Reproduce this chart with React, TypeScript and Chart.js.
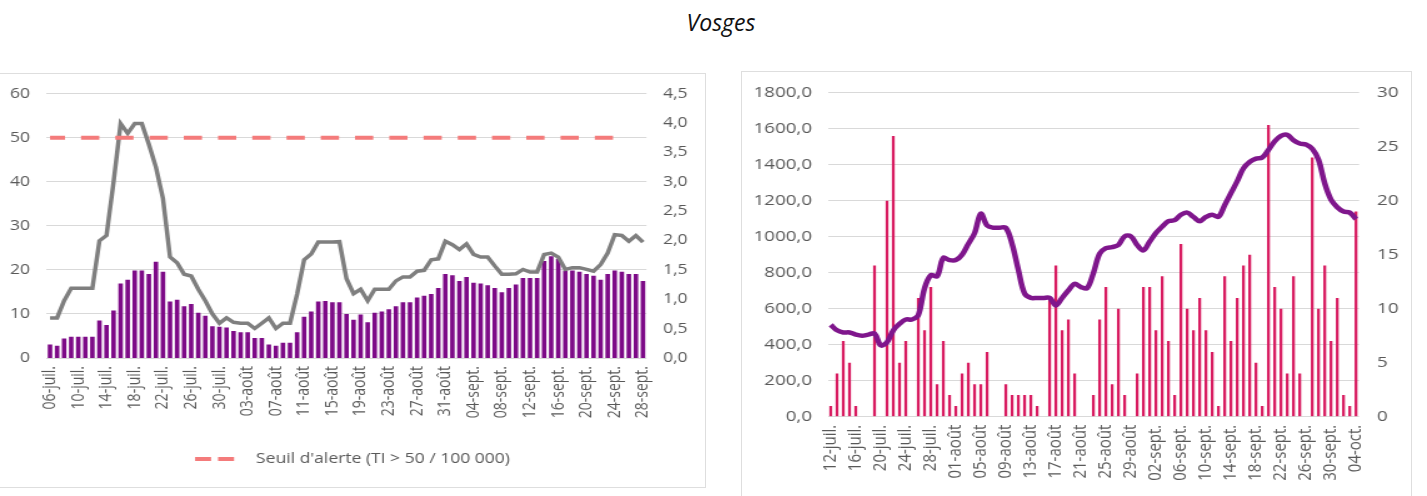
import React, { useEffect, useRef } from 'react';
import { Chart, registerables } from 'chart.js';

Chart.register(...registerables);

// ---------- categories ----------
const MONTHS = ['janv.', 'févr.', 'mars', 'avr.', 'mai', 'juin', 'juil.', 'août', 'sept.', 'oct.', 'nov.', 'déc.'];
function dayLabels(year: number, month: number, day: number, count: number): string[] {
  const out: string[] = [];
  for (let i = 0; i < count; i++) {
    const d = new Date(Date.UTC(year, month, day + i));
    out.push(String(d.getUTCDate()).padStart(2, '0') + '-' + MONTHS[d.getUTCMonth()]);
  }
  return out;
}
const leftDays = dayLabels(2020, 6, 6, 85); // 06-juil. -> 28-sept.
const rightDays = dayLabels(2020, 6, 12, 85); // 12-juil. -> 04-oct.
const LABEL_STEP = 4;

// ---------- left chart series ----------
const THRESHOLD = 50;
const THRESHOLD_LAST_INDEX = 80;
const THRESHOLD_LABEL = "Seuil d'alerte (TI > 50 / 100 000)";

// incidence (left axis)
const leftIncidence = [
  9.1, 9.1, 13.0, 15.8, 15.8, 15.8, 15.8, 26.6, 27.8, 39.9,
  53.2, 51.0, 53.2, 53.2, 48.5, 43.3, 36.2, 22.9, 21.6, 19.0,
  18.6, 15.6, 13.0, 10.0, 7.9, 9.1, 8.1, 7.9, 7.9, 6.7,
  7.9, 9.1, 6.7, 7.9, 7.9, 14.5, 22.3, 23.6, 26.3, 26.3,
  26.3, 26.4, 18.0, 14.6, 15.6, 13.0, 15.6, 15.6, 15.6, 17.5,
  18.4, 18.4, 19.7, 19.9, 22.3, 22.5, 26.5, 25.7, 24.6, 25.9,
  23.5, 22.9, 22.9, 20.9, 19.0, 19.0, 19.1, 20.1, 19.5, 19.5,
  23.5, 23.8, 22.9, 20.1, 20.5, 20.5, 20.1, 19.7, 21.2, 23.8,
  28.0, 27.8, 26.5, 27.8, 26.3,
];

// positivity (right axis)
const leftPositivity = [
  0.23, 0.21, 0.33, 0.36, 0.36, 0.36, 0.36, 0.64, 0.56, 0.81,
  1.27, 1.33, 1.49, 1.49, 1.43, 1.64, 1.47, 0.96, 0.99, 0.88,
  0.92, 0.77, 0.72, 0.54, 0.53, 0.52, 0.46, 0.44, 0.44, 0.34,
  0.34, 0.23, 0.21, 0.26, 0.26, 0.44, 0.70, 0.79, 0.96, 0.97,
  0.95, 0.95, 0.75, 0.65, 0.74, 0.61, 0.77, 0.79, 0.83, 0.88,
  0.95, 0.95, 1.03, 1.06, 1.09, 1.19, 1.43, 1.41, 1.31, 1.38,
  1.28, 1.27, 1.24, 1.19, 1.12, 1.19, 1.25, 1.36, 1.36, 1.36,
  1.65, 1.73, 1.69, 1.49, 1.49, 1.47, 1.43, 1.40, 1.33, 1.43,
  1.49, 1.47, 1.43, 1.43, 1.31,
];

const leftThreshold = leftDays.map((_, i) => (i <= THRESHOLD_LAST_INDEX ? THRESHOLD : null));

// ---------- right chart series ----------
// bars (left axis)
const rightBars = [
  60, 240, 420, 300, 60, 0, 0, 840, 0, 1200,
  1560, 300, 420, 0, 660, 480, 720, 180, 420, 120,
  60, 240, 300, 180, 180, 360, 0, 0, 180, 120,
  120, 120, 120, 60, 0, 660, 840, 480, 540, 240,
  0, 0, 120, 540, 720, 180, 600, 120, 0, 240,
  720, 720, 480, 780, 420, 120, 960, 600, 480, 660,
  480, 360, 60, 780, 420, 660, 840, 900, 300, 60,
  1620, 720, 600, 240, 780, 240, 0, 1440, 600, 840,
  420, 660, 120, 60, 1140,
];

// line (right axis)
const rightLine = [
  8.5, 8.0, 7.8, 7.8, 7.6, 7.5, 7.6, 7.7, 6.6, 6.9,
  8.0, 8.6, 9.0, 9.0, 9.4, 11.9, 13.1, 13.0, 14.7, 14.5,
  14.5, 15.0, 16.0, 17.0, 18.8, 17.7, 17.5, 17.5, 17.5, 16.0,
  13.6, 11.4, 11.0, 11.0, 11.0, 11.0, 10.3, 11.0, 11.7, 12.3,
  12.0, 11.9, 13.3, 15.1, 15.6, 15.7, 15.9, 16.7, 16.7, 15.9,
  15.4, 16.2, 17.0, 17.6, 18.1, 18.2, 18.7, 18.9, 18.5, 18.1,
  18.5, 18.7, 18.5, 19.6, 20.7, 21.8, 23.0, 23.6, 23.9, 24.0,
  24.7, 25.5, 26.0, 26.1, 25.6, 25.3, 25.2, 24.8, 23.8, 21.6,
  20.1, 19.4, 19.0, 18.9, 18.3,
];

// ---------- styling ----------
const SX = 1.25; // horizontal stretch of the pasted charts
const TEXT = '#595959';
const GRID = '#d9d9d9';
const FONT = "'Open Sans', sans-serif";

const comma1 = (v: number) => Number(v).toFixed(1).replace('.', ',');

function everyNth(this: any, val: any, idx: number) {
  return idx % LABEL_STEP === 0 ? this.getLabelForValue(val) : '';
}

export default function App() {
  const leftRef = useRef<HTMLCanvasElement>(null);
  const rightRef = useRef<HTMLCanvasElement>(null);

  useEffect(() => {
    Chart.defaults.font.family = FONT;
    Chart.defaults.color = TEXT;

    const left = new Chart(leftRef.current as HTMLCanvasElement, {
      type: 'bar',
      data: {
        labels: leftDays,
        datasets: [
          {
            type: 'line',
            label: THRESHOLD_LABEL,
            data: leftThreshold,
            yAxisID: 'y',
            borderColor: '#f47b7b',
            backgroundColor: '#f47b7b',
            borderWidth: 4,
            borderDash: [14.6, 12.8],
            borderDashOffset: 2.6,
            borderCapStyle: 'butt',
            pointRadius: 0,
            pointStyle: 'line',
            tension: 0,
            order: 1,
          } as any,
          {
            type: 'line',
            label: "Taux d'incidence",
            data: leftIncidence,
            yAxisID: 'y',
            borderColor: '#7f7f7f',
            backgroundColor: '#7f7f7f',
            borderWidth: 3.5,
            pointRadius: 0,
            tension: 0,
            order: 2,
          } as any,
          {
            type: 'bar',
            label: 'Taux de positivité',
            data: leftPositivity,
            yAxisID: 'y1',
            backgroundColor: '#7d0a87',
            barPercentage: 0.64,
            categoryPercentage: 1,
            order: 3,
          } as any,
        ],
      },
      options: {
        responsive: false,
        animation: false,
        devicePixelRatio: 1,
        layout: { autoPadding: false, padding: { top: 18.7, bottom: 11, left: 0, right: 0 } },
        plugins: {
          tooltip: { enabled: false },
          legend: {
            position: 'bottom',
            labels: {
              usePointStyle: true,
              pointStyleWidth: 41.8,
              color: TEXT,
              font: { size: 14, family: FONT },
              filter: (item: any) => item.datasetIndex === 0,
              generateLabels: (chart: any) =>
                (Chart.defaults.plugins.legend.labels as any)
                  .generateLabels(chart)
                  .map((l: any) => ({ ...l, lineDash: [12.8, 5.6, 12.8, 20], lineWidth: 4 })),
            },
          },
        },
        scales: {
          x: {
            offset: true,
            grid: { display: false, drawTicks: false },
            border: { display: false },
            ticks: {
              autoSkip: false,
              minRotation: 90,
              maxRotation: 90,
              padding: 8,
              color: TEXT,
              font: { size: 14 },
              callback: everyNth,
            },
            afterFit: (s: any) => { s.height = 84; },
          },
          y: {
            position: 'left',
            min: 0,
            max: 60,
            ticks: { stepSize: 10, padding: 13.2, color: TEXT, font: { size: 14 } },
            grid: { color: GRID, drawTicks: false, lineWidth: 1 },
            border: { display: false },
            afterFit: (s: any) => { s.width = 37.2; },
          },
          y1: {
            position: 'right',
            min: 0,
            max: 4.5,
            ticks: { stepSize: 0.5, padding: 13.2, color: TEXT, font: { size: 14 }, callback: (v: any) => comma1(v) },
            grid: { display: false, drawTicks: false },
            border: { display: false },
            afterFit: (s: any) => { s.width = 46.8; },
          },
        },
      } as any,
    });

    const right = new Chart(rightRef.current as HTMLCanvasElement, {
      type: 'bar',
      data: {
        labels: rightDays,
        datasets: [
          {
            type: 'line',
            label: 'Moyenne',
            data: rightLine,
            yAxisID: 'y1',
            borderColor: '#7f168c',
            backgroundColor: '#7f168c',
            borderWidth: 4.5,
            pointRadius: 0,
            tension: 0.35,
            order: 1,
          } as any,
          {
            type: 'bar',
            label: 'Quotidien',
            data: rightBars,
            yAxisID: 'y',
            backgroundColor: '#d81b60',
            barPercentage: 0.45,
            categoryPercentage: 1,
            order: 2,
          } as any,
        ],
      },
      options: {
        responsive: false,
        animation: false,
        devicePixelRatio: 1,
        layout: { autoPadding: false, padding: { top: 24.7, bottom: 0, left: 0, right: 0 } },
        plugins: { tooltip: { enabled: false }, legend: { display: false } },
        scales: {
          x: {
            offset: true,
            grid: { display: false, drawTicks: false },
            border: { display: false },
            ticks: {
              autoSkip: false,
              minRotation: 90,
              maxRotation: 90,
              padding: 8,
              color: TEXT,
              font: { size: 15 },
              callback: everyNth,
            },
            afterFit: (s: any) => { s.height = 79.3; },
          },
          y: {
            position: 'left',
            min: 0,
            max: 1800,
            ticks: { stepSize: 200, padding: 12.5, color: TEXT, font: { size: 15 }, callback: (v: any) => comma1(v) },
            grid: { color: GRID, drawTicks: false, lineWidth: 1 },
            border: { display: false },
            afterFit: (s: any) => { s.width = 68.5; },
          },
          y1: {
            position: 'right',
            min: 0,
            max: 30,
            ticks: { stepSize: 5, padding: 14.4, color: TEXT, font: { size: 15 } },
            grid: { display: false, drawTicks: false },
            border: { display: false },
            afterFit: (s: any) => { s.width = 40.3; },
          },
        },
      } as any,
    });

    return () => {
      left.destroy();
      right.destroy();
    };
  }, []);

  const stretch: React.CSSProperties = { position: 'absolute', transform: `scaleX(${SX})`, transformOrigin: '0 0' };

  return (
    <div style={{ position: 'absolute', left: 0, top: 0, width: 1427, height: 496, background: '#fff', overflow: 'hidden' }}>
      <div
        style={{
          position: 'absolute',
          left: 621,
          top: 7,
          width: 200,
          textAlign: 'center',
          fontFamily: FONT,
          fontStyle: 'italic',
          fontSize: 23,
          lineHeight: '30px',
          color: '#111',
        }}
      >
        Vosges
      </div>
      <div style={{ position: 'absolute', left: -1, top: 73, width: 707, height: 415, border: '1px solid #dedede', boxSizing: 'border-box' }} />
      <div style={{ position: 'absolute', left: 741, top: 71, width: 671, height: 440, border: '1px solid #dedede', boxSizing: 'border-box' }} />
      <canvas ref={leftRef} width={564} height={415} style={{ ...stretch, left: 0, top: 72 }} />
      <canvas ref={rightRef} width={534} height={428} style={{ ...stretch, left: 742, top: 68 }} />
    </div>
  );
}
